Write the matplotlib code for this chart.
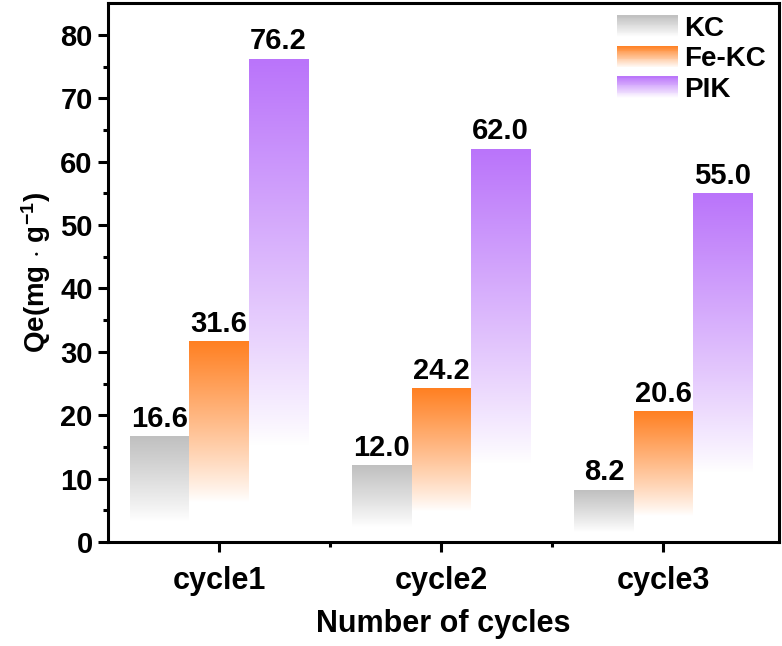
import numpy as np
import matplotlib
matplotlib.use("Agg")
import matplotlib.pyplot as plt
from matplotlib.patches import Rectangle
from matplotlib.legend_handler import HandlerBase
from matplotlib.colors import to_rgb

plt.rcParams['font.family'] = ['Liberation Sans', 'DejaVu Sans']
plt.rcParams['font.weight'] = 'bold'
plt.rcParams['mathtext.fontset'] = 'custom'
plt.rcParams['mathtext.bf'] = 'Liberation Sans:bold'
plt.rcParams['mathtext.rm'] = 'Liberation Sans:bold'
plt.rcParams['mathtext.default'] = 'bf'

categories = ['cycle1', 'cycle2', 'cycle3']
series_names = ['KC', 'Fe-KC', 'PIK']
kc = [16.6, 12.0, 8.2]
fe_kc = [31.6, 24.2, 20.6]
pik = [76.2, 62.0, 55.0]
colors = ['#C0C0C0', '#FF8022', '#BA74FA']

series = [kc, fe_kc, pik]

fig = plt.figure(figsize=(7.82, 6.46), dpi=100)
ax = fig.add_axes([0.138, 0.161, 0.858, 0.834])

x = np.arange(1, len(categories) + 1)
width = 0.267
fade = 0.2  # fraction of bar height (from bottom) that is white


def grad_img(color, n=256):
    c = np.array(to_rgb(color))
    t = np.linspace(0, 1, n)  # bottom -> top
    a = np.clip((t - fade) / (1 - fade), 0, 1)
    a = a ** 0.9
    img = (1 - a)[:, None] * np.ones(3)[None, :] + a[:, None] * c[None, :]
    return img[:, None, :]


for i, (vals, col) in enumerate(zip(series, colors)):
    offs = (i - 1) * width
    for xi, v in zip(x, vals):
        x0 = xi + offs - width / 2
        ax.imshow(grad_img(col), extent=(x0, x0 + width, 0, v), origin='lower',
                  aspect='auto', interpolation='bilinear', zorder=2)
        ax.text(xi + offs, v + 0.6, f"{v:.1f}", ha='center', va='bottom',
                fontsize=21, fontweight='bold', zorder=3)

ax.set_xlim(0.5, 3.52)
ax.set_ylim(0, 85)
ax.set_xticks(x)
ax.set_xticklabels(categories)
ax.set_xticks([1.5, 2.5], minor=True)
ax.set_yticks(np.arange(0, 81, 10))
ax.set_yticks(np.arange(5, 85, 10), minor=True)

for s in ax.spines.values():
    s.set_linewidth(2.2)
ax.tick_params(which='major', length=7, width=2.2, labelsize=21, pad=4)
ax.tick_params(which='minor', length=3.5, width=2.2)
ax.tick_params(axis='x', which='major', labelsize=22, pad=10)

ax.set_xlabel('Number of cycles', fontsize=22, fontweight='bold', labelpad=10)
ax.set_ylabel(r'Qe(mg $\cdot$ g$^{-1}$)', fontsize=20, fontweight='bold', labelpad=5)


class GradHandler(HandlerBase):
    def __init__(self, color):
        super().__init__()
        self.color = np.array(to_rgb(color))

    def create_artists(self, legend, orig_handle, xdescent, ydescent, width, height, fontsize, trans):
        n = 24
        arts = []
        for k in range(n):
            t = (k + 0.5) / n
            c = (1 - t) * np.ones(3) + t * self.color
            r = Rectangle((-xdescent, -ydescent + height * k / n), width, height / n + 0.3,
                          facecolor=c, edgecolor='none', transform=trans)
            arts.append(r)
        return arts


handles = [Rectangle((0, 0), 1, 1) for _ in series_names]
ax.legend(handles, series_names, loc='upper right', frameon=False,
          handler_map={h: GradHandler(c) for h, c in zip(handles, colors)},
          prop={'size': 20, 'weight': 'bold'}, handlelength=2.2, handleheight=0.8,
          labelspacing=0.15, handletextpad=0.25, borderaxespad=0.05)

fig.savefig('out.png', dpi=100)
